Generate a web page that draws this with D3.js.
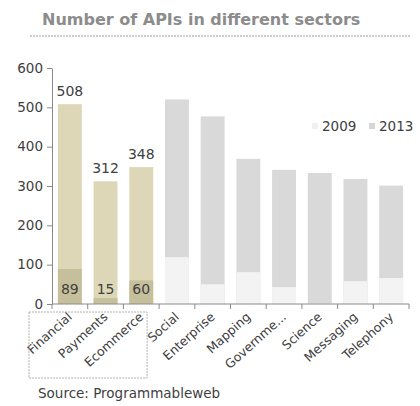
<!DOCTYPE html>
<meta charset="utf-8">
<title>Number of APIs in different sectors</title>
<style>
body { margin: 0; background: #fff; font-family: "DejaVu Sans", Verdana, sans-serif; }
svg { display: block; }
</style>
<body>
<div id="chart"></div>
<script src="https://d3js.org/d3.v7.min.js"></script>
<script>
// data
const sectors = ["Financial", "Payments", "Ecommerce", "Social", "Enterprise", "Mapping", "Governme...", "Science", "Messaging", "Telephony"];
const apis2013 = [508, 312, 348, 520, 477, 369, 341, 333, 318, 301];
const apis2009 = [89, 15, 60, 119, 50, 81, 43, 2, 58, 66];
const highlighted = ["Financial", "Payments", "Ecommerce"];
const yTicks = [0, 100, 200, 300, 400, 500, 600];

const W = 420, H = 406;
const plotLeft = 52, plotRight = 409, plotTop = 68, plotBottom = 304;

const svg = d3.select("#chart").append("svg")
    .attr("width", W)
    .attr("height", H);

// title + dashed rule
svg.append("text")
    .attr("x", 42).attr("y", 25)
    .attr("fill", "#8c8c8c")
    .style("font-size", "16px")
    .style("font-weight", "bold")
    .text("Number of APIs in different sectors");

svg.append("line")
    .attr("x1", 30).attr("x2", 410)
    .attr("y1", 36).attr("y2", 36)
    .attr("stroke", "#9a9a9a")
    .attr("stroke-dasharray", "2,1");

var x = d3.scaleBand()
    .domain(sectors)
    .range([plotLeft, plotRight])
    .paddingInner(0.33)
    .paddingOuter(0.165);

var y = d3.scaleLinear()
    .domain([0, 600])
    .range([plotBottom, plotTop]);

var data = sectors.map(function(s, i) {
  return {name: s, v13: apis2013[i], v09: apis2009[i], hi: highlighted.indexOf(s) >= 0};
});

// 2013 bars (full height)
svg.selectAll(".b13")
  .data(data)
  .enter().append("rect")
    .attr("class", "b13")
    .attr("x", function(d) { return x(d.name); })
    .attr("y", function(d) { return y(d.v13); })
    .attr("width", x.bandwidth())
    .attr("height", function(d) { return y(0) - y(d.v13); })
    .attr("fill", function(d) { return d.hi ? "#ddd7b8" : "#d9d9d9"; });

// 2009 bars overlaid
svg.selectAll(".b09")
  .data(data)
  .enter().append("rect")
    .attr("class", "b09")
    .attr("x", function(d) { return x(d.name); })
    .attr("y", function(d) { return y(d.v09); })
    .attr("width", x.bandwidth())
    .attr("height", function(d) { return y(0) - y(d.v09); })
    .attr("fill", function(d) { return d.hi ? "#c6bf9b" : "#f3f3f3"; });

// value labels on highlighted bars
var hiData = data.filter(function(d) { return d.hi; });
svg.selectAll(".l13")
  .data(hiData)
  .enter().append("text")
    .attr("x", function(d) { return x(d.name) + x.bandwidth() / 2; })
    .attr("y", function(d) { return y(d.v13) - 8; })
    .attr("text-anchor", "middle")
    .attr("fill", "#404040")
    .style("font-size", "14px")
    .text(function(d) { return d.v13; });

svg.selectAll(".l09")
  .data(hiData)
  .enter().append("text")
    .attr("x", function(d) { return x(d.name) + x.bandwidth() / 2; })
    .attr("y", y(0) - 10)
    .attr("text-anchor", "middle")
    .attr("fill", "#404040")
    .style("font-size", "14px")
    .text(function(d) { return d.v09; });

// y axis
var yAxis = svg.append("g")
    .attr("transform", "translate(" + plotLeft + ",0)")
    .call(d3.axisLeft(y).tickValues(yTicks).tickSize(5).tickSizeOuter(0).tickPadding(4));
yAxis.select(".domain").attr("stroke", "#8a8a8a");
yAxis.selectAll(".tick line").attr("stroke", "#8a8a8a");
yAxis.selectAll(".tick text")
    .attr("fill", "#404040")
    .style("font-size", "13.5px")
    .style("font-family", "DejaVu Sans, Verdana, sans-serif");

// x axis: baseline + ticks between categories
var step = x.step();
var edges = sectors.map(function(s) { return x(s) - step * x.paddingInner() / 2; });
edges.push(plotRight);
svg.append("line")
    .attr("x1", plotLeft).attr("x2", plotRight)
    .attr("y1", y(0)).attr("y2", y(0))
    .attr("stroke", "#8a8a8a");
svg.selectAll(".xt")
  .data(edges)
  .enter().append("line")
    .attr("x1", function(d) { return d; }).attr("x2", function(d) { return d; })
    .attr("y1", y(0)).attr("y2", y(0) + 5)
    .attr("stroke", "#8a8a8a");

svg.selectAll(".xl")
  .data(sectors)
  .enter().append("text")
    .attr("transform", function(d) {
      return "translate(" + (x(d) + x.bandwidth() / 2 + 3) + "," + (y(0) + 14) + ")rotate(-42)";
    })
    .attr("text-anchor", "end")
    .attr("fill", "#404040")
    .style("font-size", "12.5px")
    .text(function(d) { return d; });

// dashed box round the highlighted labels
svg.append("rect")
    .attr("x", 29).attr("y", 312)
    .attr("width", x("Social") - step * x.paddingInner() / 2 - 12 - 29)
    .attr("height", 66)
    .attr("fill", "none")
    .attr("stroke", "#b0b0b0")
    .attr("stroke-dasharray", "2,1");

// legend
var legend = [{label: "2009", color: "#f0f0f0", x: 312}, {label: "2013", color: "#d6d6d6", x: 369}];
var lg = svg.selectAll(".lg")
  .data(legend)
  .enter().append("g")
    .attr("transform", function(d) { return "translate(" + d.x + ",126)"; });
lg.append("rect")
    .attr("x", 0).attr("y", -3)
    .attr("width", 6).attr("height", 6)
    .attr("fill", function(d) { return d.color; });
lg.append("text")
    .attr("x", 10).attr("y", 5)
    .attr("fill", "#404040")
    .style("font-size", "13.5px")
    .text(function(d) { return d.label; });

// source
svg.append("text")
    .attr("x", 38).attr("y", 398)
    .attr("fill", "#404040")
    .style("font-size", "13.5px")
    .text("Source: Programmableweb");
</script>
</body>
